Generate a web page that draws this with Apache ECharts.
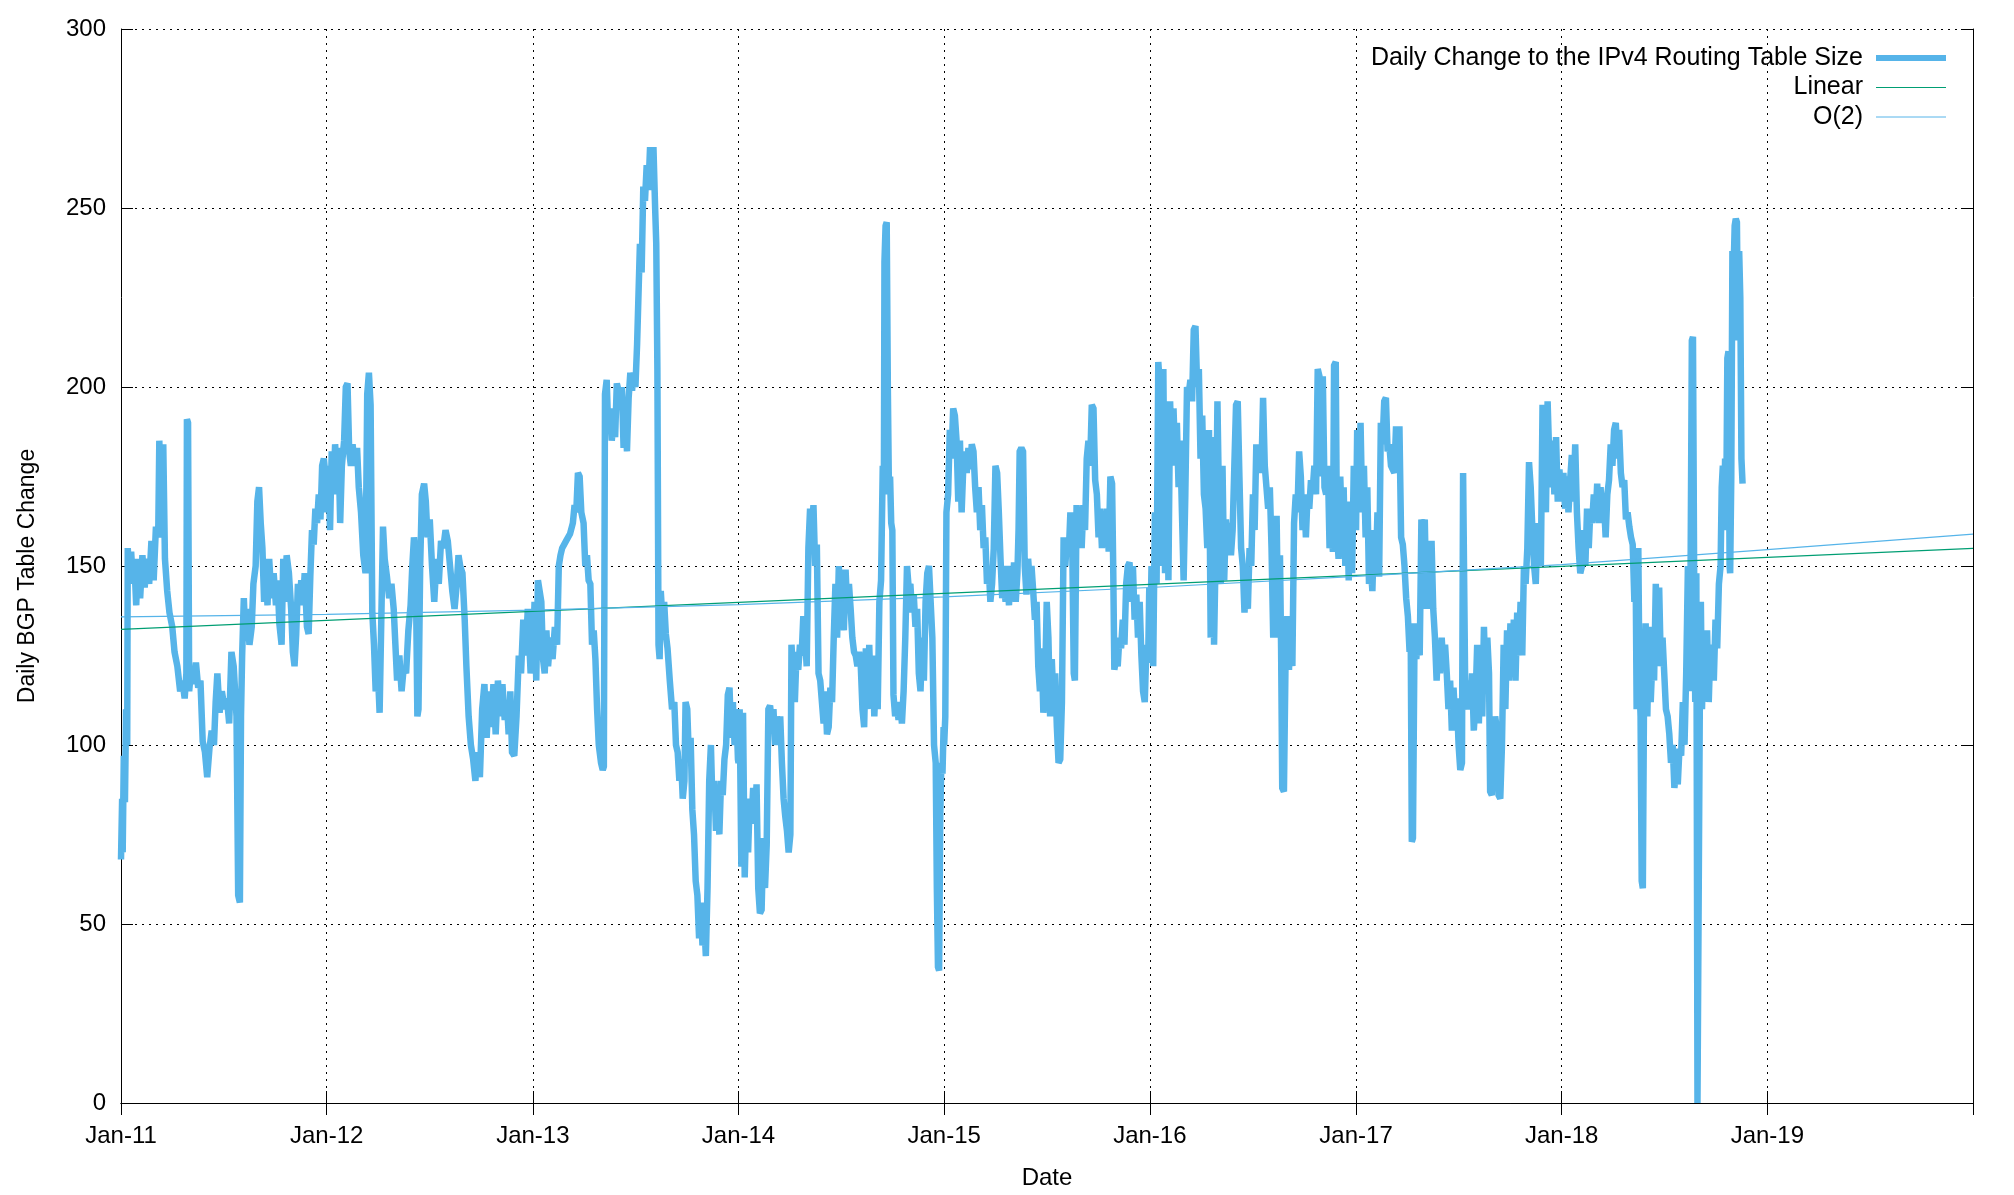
<!DOCTYPE html>
<html><head><meta charset="utf-8">
<script src="https://cdn.jsdelivr.net/npm/echarts@6/dist/echarts.min.js"></script>
<style>html,body{margin:0;padding:0;background:#fff}#c{width:2014px;height:1195px}</style>
</head><body><div id="c"></div>
<script>
// ---- data ----
const seriesNames = ['Daily Change to the IPv4 Routing Table Size', 'Linear', 'O(2)'];
const yTicks = [0, 50, 100, 150, 200, 250, 300];
const monthNames = ['Jan','Feb','Mar','Apr','May','Jun','Jul','Aug','Sep','Oct','Nov','Dec'];

const y2011 = [['01-01',68],['01-03',85],['01-04',70],['01-06',97],['01-08',84],['01-10',110],['01-12',100],['01-13',155],['01-16',145],['01-19',154],['01-22',146],['01-25',150],['01-28',139],['01-31',152],['02-04',141],['02-08',153],['02-12',144],['02-16',152],['02-20',145],['02-24',157],['02-28',146],['03-04',161],['03-08',158],['03-10',185],['03-14',160],['03-17',184],['03-20',152],['03-24',143],['03-28',137],['04-02',133],['04-06',126],['04-11',122],['04-16',115],['04-20',118],['04-24',113],['04-27',120],['04-28',191],['04-30',190],['05-02',115],['05-06',122],['05-10',117],['05-14',123],['05-18',116],['05-22',118],['05-26',101],['05-30',98],['06-03',91],['06-07',99],['06-11',104],['06-15',100],['06-18',112],['06-21',120],['06-25',109],['06-29',115],['07-04',110],['07-08',113],['07-12',106],['07-16',126],['07-20',122],['07-25',108],['07-28',58],['07-31',56],['08-02',108],['08-04',125],['08-07',141],['08-10',129],['08-13',138],['08-17',128],['08-21',133],['08-24',145],['08-28',150],['08-31',168],['09-03',172],['09-06',162],['09-09',155],['09-12',140],['09-15',150],['09-18',139],['09-21',152],['09-25',141],['09-29',148],['10-03',139],['10-06',146],['10-09',134],['10-13',128],['10-16',152],['10-19',140],['10-22',153],['10-26',148],['10-30',138],['11-02',126],['11-05',122],['11-08',131],['11-11',145],['11-14',140],['11-17',146],['11-20',139],['11-23',148],['11-27',133],['11-30',131],['12-03',147],['12-06',160],['12-09',156],['12-12',166],['12-15',162],['12-18',170],['12-21',163],['12-24',178],['12-27',180],['12-30',175]];

const y2012 = [['01-01',165],['01-04',178],['01-07',160],['01-10',182],['01-13',170],['01-16',184],['01-19',176],['01-22',183],['01-25',162],['01-28',178],['02-01',185],['02-04',200],['02-07',201],['02-10',182],['02-13',178],['02-16',184],['02-20',178],['02-24',183],['02-27',172],['03-02',165],['03-06',153],['03-10',148],['03-13',198],['03-16',204],['03-19',195],['03-22',137],['03-25',128],['03-28',115],['04-01',120],['04-04',109],['04-07',135],['04-10',161],['04-13',152],['04-17',147],['04-21',141],['04-25',145],['04-29',138],['05-02',128],['05-05',118],['05-09',125],['05-13',115],['05-17',122],['05-21',120],['05-25',132],['05-29',139],['06-01',150],['06-04',158],['06-07',152],['06-10',108],['06-12',110],['06-15',150],['06-18',170],['06-22',173],['06-25',168],['06-28',158],['07-02',163],['07-06',150],['07-10',140],['07-14',152],['07-18',145],['07-22',157],['07-26',155],['07-30',160],['08-03',157],['08-07',150],['08-11',143],['08-15',138],['08-19',145],['08-22',153],['08-25',150],['08-29',148],['09-02',135],['09-05',122],['09-09',108],['09-13',100],['09-17',96],['09-21',90],['09-25',98],['09-29',91],['10-03',110],['10-07',117],['10-11',102],['10-15',115],['10-19',105],['10-23',117],['10-27',103],['10-31',118],['11-04',108],['11-08',117],['11-12',107],['11-16',112],['11-19',103],['11-22',115],['11-25',98],['11-29',97],['12-03',108],['12-07',125],['12-11',120],['12-15',135],['12-19',125],['12-23',138],['12-28',120]];

const y2013 = [['01-01',125],['01-04',140],['01-07',118],['01-10',146],['01-13',143],['01-16',140],['01-19',124],['01-22',120],['01-25',132],['01-28',122],['02-01',130],['02-05',124],['02-09',133],['02-13',128],['02-16',150],['02-19',153],['02-22',155],['03-01',157],['03-08',159],['03-13',162],['03-16',167],['03-19',165],['03-22',176],['03-25',175],['03-28',165],['04-01',162],['04-04',150],['04-07',153],['04-10',146],['04-13',145],['04-16',128],['04-19',132],['04-22',124],['04-25',110],['04-28',100],['05-02',95],['05-05',93],['05-07',94],['05-09',198],['05-12',202],['05-15',187],['05-18',194],['05-21',185],['05-24',190],['05-27',186],['05-30',201],['06-02',199],['06-05',195],['06-08',200],['06-11',183],['06-14',195],['06-17',182],['06-20',197],['06-23',204],['06-26',199],['06-29',204],['07-02',200],['07-05',212],['07-08',212],['07-10',240],['07-13',232],['07-16',256],['07-19',252],['07-22',262],['07-25',255],['07-28',267],['07-31',255],['08-03',267],['08-06',250],['08-08',240],['08-10',205],['08-12',128],['08-14',124],['08-16',143],['08-19',135],['08-22',140],['08-25',131],['08-28',127],['09-01',118],['09-05',110],['09-09',112],['09-12',100],['09-15',98],['09-18',90],['09-21',96],['09-24',85],['09-27',90],['09-29',112],['10-02',110],['10-05',96],['10-08',102],['10-11',82],['10-14',75],['10-17',62],['10-20',58],['10-23',46],['10-26',56],['10-29',44],['11-01',51],['11-04',41],['11-07',60],['11-10',90],['11-13',100],['11-16',82],['11-19',90],['11-22',76],['11-25',87],['11-28',75],['12-01',90],['12-04',86],['12-07',96],['12-10',100],['12-13',114],['12-16',116],['12-19',102],['12-22',112],['12-25',100],['12-28',110],['12-31',96]];

const y2014 = [['01-01',95],['01-03',110],['01-06',66],['01-09',109],['01-12',63],['01-15',82],['01-18',70],['01-21',85],['01-24',78],['01-27',88],['01-30',80],['02-02',89],['02-05',60],['02-08',53],['02-11',54],['02-14',74],['02-17',60],['02-20',72],['02-23',110],['02-26',111],['03-01',106],['03-04',110],['03-07',100],['03-10',108],['03-13',102],['03-16',108],['03-19',95],['03-22',85],['03-25',80],['03-28',76],['03-31',70],['04-03',75],['04-05',128],['04-08',120],['04-11',112],['04-14',126],['04-17',121],['04-20',128],['04-23',125],['04-26',136],['04-29',130],['05-02',122],['05-05',155],['05-08',166],['05-11',160],['05-14',167],['05-17',150],['05-20',156],['05-23',120],['05-26',118],['05-29',112],['06-01',106],['06-04',115],['06-07',103],['06-10',105],['06-13',116],['06-16',112],['06-19',130],['06-22',145],['06-25',130],['06-28',150],['07-01',136],['07-04',149],['07-07',132],['07-10',149],['07-13',138],['07-16',145],['07-19',138],['07-22',130],['07-25',126],['07-28',125],['07-31',122],['08-03',126],['08-06',122],['08-09',110],['08-12',105],['08-15',127],['08-18',110],['08-21',128],['08-24',112],['08-27',125],['08-30',108],['09-02',120],['09-05',110],['09-08',140],['09-11',146],['09-14',178],['09-16',170],['09-17',235],['09-19',245],['09-21',246],['09-23',200],['09-25',170],['09-27',175],['09-29',162],['10-01',160],['10-03',114],['10-06',108],['10-09',112],['10-12',107],['10-15',112],['10-18',106],['10-21',115],['10-24',130],['10-27',150],['10-30',144],['11-02',145],['11-05',137],['11-08',142],['11-11',133],['11-14',138],['11-17',120],['11-20',115],['11-23',130],['11-26',118],['11-29',140],['12-02',148],['12-05',150],['12-08',140],['12-11',130],['12-14',100],['12-17',95],['12-19',60],['12-21',38],['12-23',37],['12-25',80],['12-27',95],['12-29',92],['12-31',105]];

const y2015 = [['01-01',100],['01-03',108],['01-05',165],['01-08',170],['01-11',188],['01-14',180],['01-17',194],['01-20',192],['01-23',185],['01-26',168],['01-29',185],['02-01',165],['02-04',178],['02-07',182],['02-10',176],['02-13',183],['02-16',177],['02-19',184],['02-22',182],['02-25',172],['02-28',165],['03-03',172],['03-06',160],['03-09',167],['03-12',155],['03-15',158],['03-18',145],['03-21',150],['03-24',140],['03-27',145],['03-30',155],['04-02',178],['04-05',176],['04-08',165],['04-11',152],['04-14',141],['04-17',145],['04-20',140],['04-23',150],['04-26',139],['04-29',149],['05-02',141],['05-05',151],['05-08',140],['05-11',148],['05-13',160],['05-15',182],['05-18',183],['05-21',182],['05-24',150],['05-27',142],['05-30',152],['06-02',145],['06-05',150],['06-08',143],['06-11',135],['06-14',140],['06-17',122],['06-20',115],['06-23',127],['06-26',109],['06-29',116],['07-02',140],['07-05',130],['07-08',108],['07-11',124],['07-14',112],['07-17',120],['07-20',105],['07-23',95],['07-26',96],['07-29',112],['08-01',158],['08-04',150],['08-07',158],['08-10',153],['08-13',165],['08-16',160],['08-19',120],['08-21',118],['08-24',167],['08-27',160],['08-30',165],['09-02',155],['09-05',167],['09-08',160],['09-11',180],['09-14',185],['09-17',178],['09-20',195],['09-23',194],['09-26',174],['09-29',170],['10-02',158],['10-05',166],['10-08',155],['10-11',163],['10-14',157],['10-17',166],['10-20',154],['10-23',175],['10-26',173],['10-28',150],['10-30',121],['11-02',124],['11-05',122],['11-08',130],['11-11',127],['11-14',135],['11-17',128],['11-20',145],['11-23',150],['11-26',151],['11-29',140],['12-02',150],['12-05',135],['12-08',142],['12-11',130],['12-14',140],['12-17',125],['12-20',115],['12-23',112],['12-26',128],['12-29',123],['12-31',144]];

const y2016 = [['01-01',125],['01-04',150],['01-07',122],['01-10',165],['01-13',145],['01-16',207],['01-19',200],['01-22',150],['01-25',205],['01-28',148],['01-31',194],['02-03',146],['02-06',196],['02-09',178],['02-12',194],['02-15',180],['02-18',190],['02-21',172],['02-24',185],['02-27',165],['03-01',146],['03-04',170],['03-07',200],['03-10',198],['03-13',202],['03-16',196],['03-19',216],['03-22',217],['03-25',200],['03-28',205],['03-31',180],['04-03',192],['04-06',170],['04-09',166],['04-12',155],['04-15',188],['04-18',130],['04-21',186],['04-24',128],['04-27',155],['04-30',196],['05-03',165],['05-06',145],['05-09',178],['05-12',146],['05-15',163],['05-18',155],['05-21',162],['05-24',153],['05-27',160],['05-30',178],['06-02',195],['06-05',196],['06-08',175],['06-11',155],['06-14',150],['06-17',137],['06-20',145],['06-23',138],['06-26',155],['06-29',150],['07-02',170],['07-05',160],['07-08',184],['07-11',176],['07-14',182],['07-17',176],['07-20',197],['07-23',178],['07-26',172],['07-29',166],['08-01',172],['08-04',155],['08-07',130],['08-10',150],['08-13',164],['08-16',130],['08-19',153],['08-21',127],['08-23',88],['08-26',87],['08-29',125],['09-01',136],['09-04',121],['09-07',135],['09-10',122],['09-13',162],['09-16',170],['09-19',165],['09-22',182],['09-25',175],['09-28',160],['10-01',170],['10-04',158],['10-07',170],['10-10',166],['10-13',174],['10-16',171],['10-19',178],['10-22',170],['10-25',205],['10-28',203],['10-31',175],['11-03',203],['11-06',172],['11-09',170],['11-12',178],['11-15',155],['11-18',160],['11-21',154],['11-23',206],['11-26',207],['11-28',160],['12-01',152],['12-04',175],['12-07',160],['12-10',172],['12-13',150],['12-16',168],['12-19',146],['12-22',165],['12-25',148],['12-28',178],['12-31',170]];

const y2017 = [['01-01',160],['01-03',188],['01-06',170],['01-09',190],['01-12',165],['01-15',178],['01-18',158],['01-21',172],['01-24',145],['01-27',150],['01-30',143],['02-02',160],['02-05',148],['02-08',165],['02-11',147],['02-14',190],['02-17',184],['02-20',196],['02-23',197],['02-26',182],['03-01',184],['03-04',178],['03-07',177],['03-10',176],['03-13',189],['03-16',176],['03-19',189],['03-22',158],['03-25',156],['03-28',150],['03-31',141],['04-03',136],['04-06',126],['04-08',132],['04-10',73],['04-12',74],['04-15',134],['04-18',124],['04-21',133],['04-24',125],['04-27',163],['04-30',159],['05-03',163],['05-06',138],['05-09',157],['05-12',138],['05-15',157],['05-18',138],['05-21',130],['05-24',118],['05-27',128],['05-30',120],['06-02',130],['06-05',122],['06-08',128],['06-11',120],['06-14',110],['06-17',118],['06-20',104],['06-23',116],['06-26',107],['06-29',113],['07-02',100],['07-05',93],['07-08',95],['07-10',176],['07-12',176],['07-14',112],['07-17',110],['07-20',118],['07-23',110],['07-26',120],['07-29',104],['08-01',112],['08-04',128],['08-07',106],['08-10',125],['08-13',108],['08-16',133],['08-19',117],['08-22',130],['08-25',120],['08-27',87],['08-30',86],['09-02',100],['09-05',108],['09-08',104],['09-11',86],['09-14',85],['09-17',100],['09-20',128],['09-23',110],['09-26',132],['09-29',118],['10-02',134],['10-05',120],['10-08',135],['10-11',118],['10-14',137],['10-17',125],['10-20',140],['10-23',125],['10-26',150],['10-29',145],['11-01',155],['11-04',179],['11-07',172],['11-10',160],['11-13',150],['11-16',145],['11-19',162],['11-22',155],['11-25',150],['11-28',195],['12-01',180],['12-04',165],['12-07',196],['12-10',180],['12-13',172],['12-16',185],['12-19',170],['12-22',186],['12-25',168],['12-28',177],['12-31',168]];

const y2018 = [['01-01',172],['01-04',176],['01-07',166],['01-10',175],['01-13',165],['01-16',174],['01-19',181],['01-22',168],['01-25',184],['01-28',165],['01-31',155],['02-03',148],['02-06',150],['02-09',160],['02-12',150],['02-15',166],['02-18',155],['02-21',166],['02-24',162],['02-27',170],['03-02',163],['03-05',173],['03-08',162],['03-11',172],['03-14',164],['03-17',168],['03-20',158],['03-23',170],['03-26',174],['03-29',184],['04-01',178],['04-04',188],['04-07',190],['04-10',180],['04-13',188],['04-16',176],['04-19',172],['04-22',174],['04-25',163],['04-28',165],['05-01',161],['05-04',158],['05-07',156],['05-10',140],['05-12',154],['05-14',110],['05-17',155],['05-19',118],['05-21',108],['05-23',62],['05-25',60],['05-27',110],['05-30',134],['06-02',108],['06-05',133],['06-08',112],['06-11',124],['06-14',118],['06-17',145],['06-20',128],['06-23',144],['06-26',122],['06-29',130],['07-02',120],['07-05',110],['07-08',108],['07-11',103],['07-14',95],['07-17',100],['07-20',88],['07-23',93],['07-26',89],['07-29',99],['08-01',97],['08-04',112],['08-07',100],['08-10',120],['08-13',150],['08-16',115],['08-18',155],['08-20',213],['08-22',214],['08-24',150],['08-26',112],['08-28',148],['08-30',0],['09-01',0],['09-03',108],['09-05',140],['09-07',110],['09-10',130],['09-13',115],['09-16',132],['09-19',112],['09-22',128],['09-25',125],['09-28',118],['10-01',135],['10-04',127],['10-07',145],['10-10',150],['10-12',172],['10-14',178],['10-16',160],['10-18',180],['10-20',165],['10-22',208],['10-24',210],['10-26',150],['10-27',148],['10-29',175],['10-31',238],['11-02',232],['11-04',245],['11-06',247],['11-08',246],['11-10',213],['11-12',238],['11-14',225],['11-16',180],['11-18',173]];

// trend lines read at each January (Linear: end points; O(2): yearly)
const linearDates = ['2011-01-01', '2020-01-01'];
const linearValues = [132.3, 154.9];
const quadDates = ['2011-01-01','2012-01-01','2013-01-01','2014-01-01','2015-01-01','2016-01-01','2017-01-01','2018-01-01','2019-01-01','2020-01-01'];
const quadValues = [135.8, 136.5, 137.7, 139.2, 141.4, 144.0, 147.1, 150.4, 154.6, 158.9];

// ---- build ----
const yearTables = [[2011,y2011],[2012,y2012],[2013,y2013],[2014,y2014],[2015,y2015],[2016,y2016],[2017,y2017],[2018,y2018]];
const mainData = [];
yearTables.forEach(([yr, rows]) => rows.forEach(([md, v]) => mainData.push([yr + '-' + md, v])));
const linearData = linearDates.map((d, i) => [d, linearValues[i]]);
const quadData = quadDates.map((d, i) => [d, quadValues[i]]);

const FONT = '"Liberation Sans", Arial, sans-serif';
const xMin = new Date(2011, 0, 1).getTime();
const xMax = new Date(2020, 0, 1).getTime();
const YEAR = 365 * 24 * 3600 * 1000;
function fmtX(v) {
  const d = new Date(v);
  if (d.getFullYear() >= 2020) return '';
  return monthNames[d.getMonth()] + '-' + String(d.getFullYear()).slice(2);
}
const gridDash = [2, 5];
const hidden = {opacity: 0};

const chart = echarts.init(document.getElementById('c'), null, {renderer: 'canvas'});
chart.setOption({
  animation: false,
  backgroundColor: '#fff',
  textStyle: {fontFamily: FONT, color: '#000'},
  grid: {left: 121, right: 41, top: 29, bottom: 92, containLabel: false},
  legend: {
    orient: 'vertical', right: 65, top: 45.5, padding: 0, align: 'right',
    itemWidth: 70, itemHeight: 14, itemGap: 4.5,
    itemStyle: hidden,
    textStyle: {fontFamily: FONT, fontSize: 25, lineHeight: 25, color: '#000', padding: [0, 8, 0, 0]},
    data: [
      {name: seriesNames[0], itemStyle: hidden, lineStyle: {width: 6}},
      {name: seriesNames[1], itemStyle: hidden, lineStyle: {width: 1}},
      {name: seriesNames[2], itemStyle: hidden, lineStyle: {width: 1}}
    ]
  },
  xAxis: [{
    type: 'time', min: xMin, max: xMax, splitNumber: 9, minInterval: YEAR,
    axisLine: {show: true, lineStyle: {color: '#000', width: 1}},
    axisTick: {show: true, inside: true, length: 12, lineStyle: {color: '#000'}},
    axisLabel: {color: '#000', fontFamily: FONT, fontSize: 24, margin: 21, formatter: fmtX, hideOverlap: false},
    splitLine: {show: true, lineStyle: {color: '#000', width: 1, type: gridDash}},
    name: 'Date', nameLocation: 'middle', nameGap: 63,
    nameTextStyle: {color: '#000', fontFamily: FONT, fontSize: 24}
  }, {
    type: 'time', position: 'top', min: xMin, max: xMax, splitNumber: 9, minInterval: YEAR,
    axisLine: {show: true, lineStyle: {color: '#000', width: 1}},
    axisTick: {show: true, inside: true, length: 12, lineStyle: {color: '#000'}},
    axisLabel: {show: false}, splitLine: {show: false}
  }],
  yAxis: [{
    type: 'value', min: yTicks[0], max: yTicks[yTicks.length - 1], interval: 50,
    axisLine: {show: true, lineStyle: {color: '#000', width: 1}},
    axisTick: {show: true, inside: true, length: 12, lineStyle: {color: '#000'}},
    axisLabel: {color: '#000', fontFamily: FONT, fontSize: 24, margin: 15},
    splitLine: {show: true, lineStyle: {color: '#000', width: 1, type: gridDash}},
    name: 'Daily BGP Table Change', nameLocation: 'middle', nameGap: 82, nameRotate: 90,
    nameTextStyle: {color: '#000', fontFamily: FONT, fontSize: 23, padding: [0, 20, 0, 0]}
  }, {
    type: 'value', position: 'right', min: yTicks[0], max: yTicks[yTicks.length - 1], interval: 50,
    axisLine: {show: true, lineStyle: {color: '#000', width: 1}},
    axisTick: {show: true, inside: true, length: 12, lineStyle: {color: '#000'}},
    axisLabel: {show: false}, splitLine: {show: false}
  }],
  series: [{
    name: seriesNames[0], type: 'line', data: mainData, symbol: 'none', showSymbol: false,
    lineStyle: {color: '#56b4e9', width: 6.5, join: 'miter', miterLimit: 2}, itemStyle: {color: '#56b4e9'},
    xAxisIndex: 0, yAxisIndex: 0, z: 2
  }, {
    name: seriesNames[1], type: 'line', data: linearData, symbol: 'none', showSymbol: false,
    lineStyle: {color: '#009e73', width: 1.2}, itemStyle: {color: '#009e73'}, z: 3
  }, {
    name: seriesNames[2], type: 'line', data: quadData, symbol: 'none', showSymbol: false,
    lineStyle: {color: '#56b4e9', width: 1.2}, itemStyle: {color: '#56b4e9'}, z: 4
  }]
});
</script></body></html>
